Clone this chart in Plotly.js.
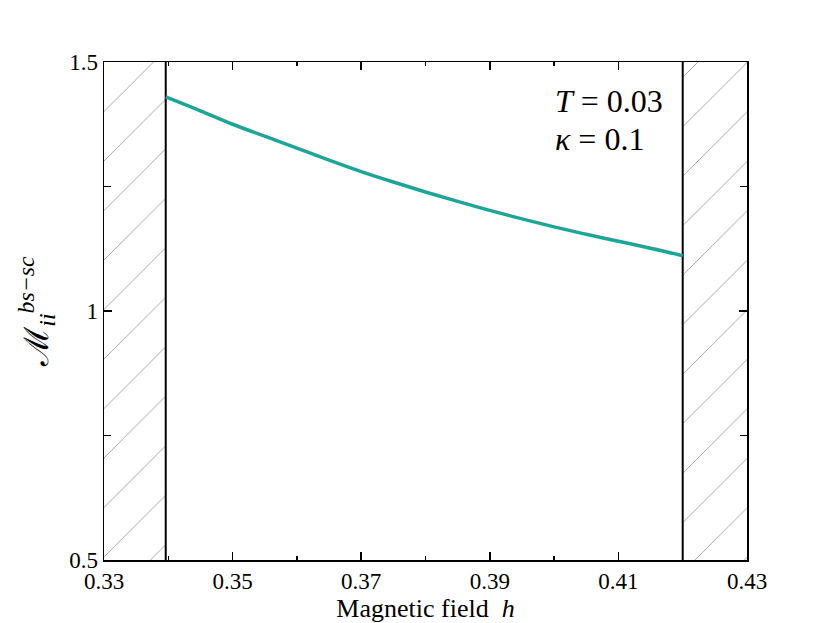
<!DOCTYPE html>
<html>
<head>
<meta charset="utf-8">
<script src="https://cdn.plot.ly/plotly-3.0.1.min.js"></script>
<style>
  html, body { margin: 0; padding: 0; background: #fff; }
  #chart { width: 830px; height: 623px; }
</style>
</head>
<body>
<div id="chart"></div>
<script>
// magnetic field h and the ratio M_ii^(bs-sc)
const fieldH = [0.3396, 0.345, 0.35, 0.355, 0.36, 0.365, 0.37, 0.375, 0.38,
                0.385, 0.39, 0.395, 0.40, 0.405, 0.41, 0.415, 0.42];
const ratioM = [1.430, 1.402, 1.375, 1.351, 1.327, 1.303, 1.280, 1.259, 1.239,
                1.220, 1.202, 1.185, 1.169, 1.154, 1.140, 1.126, 1.111];

// edges of the allowed window (hatched outside)
const xLimits = [0.33, 0.43];
const yLimits = [0.5, 1.5];
const lowEdge = 0.3396;
const highEdge = 0.42;

const xTicks = [0.33, 0.35, 0.37, 0.39, 0.41, 0.43];
const xTickText = ['0.33', '0.35', '0.37', '0.39', '0.41', '0.43'];
const yTicks = [0.5, 1, 1.5];
const yTickText = ['0.5', '1', '1.5'];

const hatch = {shape: '/', size: 35, solidity: 0.025, fgcolor: '#9a9a9a', bgcolor: 'white', fillmode: 'replace'};

function hatchBox(x0, x1) {
    return {
        x: [x0, x1, x1, x0, x0],
        y: [yLimits[0], yLimits[0], yLimits[1], yLimits[1], yLimits[0]],
        type: 'scatter',
        mode: 'lines',
        fill: 'toself',
        fillcolor: 'white',
        fillpattern: hatch,
        line: {width: 0},
        hoverinfo: 'skip',
        showlegend: false
    };
}

function edgeLine(x) {
    return {
        x: [x, x],
        y: yLimits,
        type: 'scatter',
        mode: 'lines',
        line: {color: 'black', width: 2},
        showlegend: false
    };
}

const traces = [
    hatchBox(xLimits[0], lowEdge),
    hatchBox(highEdge, xLimits[1]),
    edgeLine(lowEdge),
    edgeLine(highEdge),
    {
        x: fieldH,
        y: ratioM,
        type: 'scatter',
        mode: 'lines',
        line: {color: '#1fa596', width: 3.5, shape: 'spline'},
        showlegend: false
    }
];

const serif = 'Liberation Serif, serif';
const axisFont = {family: serif, size: 23, color: 'black'};

const layout = {
    width: 830,
    height: 623,
    margin: {l: 104, r: 83, t: 62, b: 63},
    paper_bgcolor: 'white',
    plot_bgcolor: 'white',
    showlegend: false,
    font: axisFont,
    xaxis: {
        range: xLimits,
        tickvals: xTicks,
        ticktext: xTickText,
        ticks: 'inside',
        ticklen: 8,
        tickwidth: 1.5,
        tickcolor: 'black',
        minor: {tickvals: [0.34, 0.36, 0.38, 0.40, 0.42], ticks: 'inside', ticklen: 4, tickwidth: 1.5, tickcolor: 'black'},
        showline: true,
        linecolor: 'black',
        linewidth: 1.5,
        mirror: 'allticks',
        showgrid: false,
        zeroline: false,
        tickfont: axisFont,
        title: {text: 'Magnetic field  <i>h</i>', font: {family: serif, size: 26, color: 'black'}, standoff: 6}
    },
    yaxis: {
        range: yLimits,
        tickvals: yTicks,
        ticktext: yTickText,
        ticks: 'inside',
        ticklen: 8,
        tickwidth: 1.5,
        tickcolor: 'black',
        minor: {tickvals: [0.75, 1.25], ticks: 'inside', ticklen: 7, tickwidth: 1.5, tickcolor: 'black'},
        showline: true,
        linecolor: 'black',
        linewidth: 1.5,
        mirror: 'allticks',
        showgrid: false,
        zeroline: false,
        tickfont: axisFont,
        title: {text: 'ℳ<sub><i>ii</i></sub><sup><i>bs−sc</i></sup>', font: {family: serif, size: 34, color: 'black'}, standoff: 10}
    },
    annotations: [
        {x: 0.3998, y: 1.4217, xref: 'x', yref: 'y', xanchor: 'left', yanchor: 'middle', showarrow: false,
         text: '<i>T</i> = 0.03', font: {family: serif, size: 32, color: 'black'}},
        {x: 0.3998, y: 1.346, xref: 'x', yref: 'y', xanchor: 'left', yanchor: 'middle', showarrow: false,
         text: '<i>κ</i> = 0.1', font: {family: serif, size: 32, color: 'black'}}
    ]
};

Plotly.newPlot('chart', traces, layout, {staticPlot: true});
</script>
</body>
</html>
